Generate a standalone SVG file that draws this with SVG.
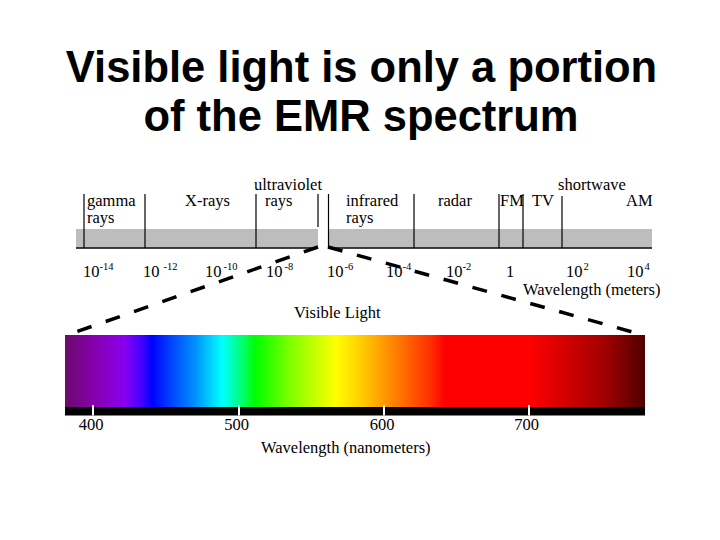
<svg xmlns="http://www.w3.org/2000/svg" width="720" height="540" viewBox="0 0 720 540">
  <defs>
    <style>
      .title { font-family: "Liberation Sans", Arial, sans-serif; font-weight: bold; font-size: 43.5px; fill: #000; text-anchor: middle; }
      .lbl { font-family: "Liberation Serif", "Times New Roman", serif; font-size: 16.5px; fill: #000; }
      .sup { font-size: 10.5px; }
      .mid { text-anchor: middle; }
      .band { fill: #bdbdbd; }
      .div { stroke: #000; stroke-width: 1.2; fill: none; }
      .base { stroke: #000; stroke-width: 1.6; fill: none; }
      .dash { stroke: #000; stroke-width: 3.5; stroke-dasharray: 15 15; fill: none; }
      .tick { stroke: #fff; stroke-width: 2; }
    </style>
    <linearGradient id="vis" gradientUnits="userSpaceOnUse" x1="65" y1="0" x2="645" y2="0">
      <stop offset="0" stop-color="#6a0a6a"/>
      <stop offset="0.052" stop-color="#8800b0"/>
      <stop offset="0.103" stop-color="#8800f0"/>
      <stop offset="0.134" stop-color="#4000ff"/>
      <stop offset="0.150" stop-color="#0000ff"/>
      <stop offset="0.181" stop-color="#0040ff"/>
      <stop offset="0.224" stop-color="#0090ff"/>
      <stop offset="0.271" stop-color="#00ffff"/>
      <stop offset="0.302" stop-color="#00ff80"/>
      <stop offset="0.328" stop-color="#00ff00"/>
      <stop offset="0.388" stop-color="#80ff00"/>
      <stop offset="0.466" stop-color="#ffff00"/>
      <stop offset="0.509" stop-color="#ffd000"/>
      <stop offset="0.569" stop-color="#ff8000"/>
      <stop offset="0.629" stop-color="#ff3000"/>
      <stop offset="0.655" stop-color="#ff0000"/>
      <stop offset="0.800" stop-color="#ff0000"/>
      <stop offset="0.866" stop-color="#d00000"/>
      <stop offset="0.931" stop-color="#a00000"/>
      <stop offset="1" stop-color="#500000"/>
    </linearGradient>
  </defs>

  <rect x="0" y="0" width="720" height="540" fill="#fff"/>

  <g id="title">
    <text class="title" x="361.5" y="82">Visible light is only a portion</text>
    <text class="title" x="361" y="131">of the EMR spectrum</text>
  </g>

  <g id="em-spectrum">
    <rect class="band" x="76" y="229" width="242" height="18.5"/>
    <rect class="band" x="328" y="229" width="324" height="18.5"/>
    <line class="base" x1="76" y1="248" x2="318" y2="248"/>
    <line class="base" x1="328" y1="248" x2="652" y2="248"/>
    <line class="div" x1="84" y1="194" x2="84" y2="248"/>
    <line class="div" x1="145" y1="194" x2="145" y2="248"/>
    <line class="div" x1="256" y1="194" x2="256" y2="248"/>
    <line class="div" x1="318" y1="194" x2="318" y2="227"/>
    <line class="div" x1="328.5" y1="194" x2="328.5" y2="248"/>
    <line class="div" x1="414" y1="194" x2="414" y2="248"/>
    <line class="div" x1="499" y1="194" x2="499" y2="248"/>
    <line class="div" x1="523" y1="194" x2="523" y2="248"/>
    <line class="div" x1="562" y1="196" x2="562" y2="248"/>
  </g>

  <g id="band-labels">
    <text class="lbl" x="87" y="206">gamma</text>
    <text class="lbl" x="87" y="223">rays</text>
    <text class="lbl" x="185" y="206">X-rays</text>
    <text class="lbl" x="254" y="190" textLength="68">ultraviolet</text>
    <text class="lbl" x="265" y="206">rays</text>
    <text class="lbl" x="346" y="206">infrared</text>
    <text class="lbl" x="346" y="223">rays</text>
    <text class="lbl" x="438" y="206">radar</text>
    <text class="lbl" x="500" y="206">FM</text>
    <text class="lbl" x="532" y="206">TV</text>
    <text class="lbl" x="558" y="190">shortwave</text>
    <text class="lbl" x="626" y="206">AM</text>
  </g>

  <g id="meter-scale">
    <text class="lbl" x="83" y="277">10<tspan class="sup" dy="-7">-14</tspan></text>
    <text class="lbl" x="143" y="277">10<tspan class="sup" dx="4" dy="-7">-12</tspan></text>
    <text class="lbl" x="205" y="277">10<tspan class="sup" dx="2" dy="-7">-10</tspan></text>
    <text class="lbl" x="266" y="277">10<tspan class="sup" dx="2" dy="-7">-8</tspan></text>
    <text class="lbl" x="327" y="277">10<tspan class="sup" dx="1" dy="-7">-6</tspan></text>
    <text class="lbl" x="386" y="277">10<tspan class="sup" dy="-7">-4</tspan></text>
    <text class="lbl" x="446" y="277">10<tspan class="sup" dy="-7">-2</tspan></text>
    <text class="lbl" x="506" y="277">1</text>
    <text class="lbl" x="566" y="277">10<tspan class="sup" dx="1" dy="-7">2</tspan></text>
    <text class="lbl" x="627" y="277">10<tspan class="sup" dx="1" dy="-7">4</tspan></text>
    <text class="lbl" x="523" y="295">Wavelength (meters)</text>
  </g>

  <g id="connectors">
    <path class="dash" d="M318,247 L73,333"/>
    <path class="dash" d="M328,247 L636,333"/>
  </g>

  <g id="visible-light">
    <text class="lbl" x="294" y="318">Visible Light</text>
    <rect x="65" y="335" width="580" height="72" fill="url(#vis)"/>
    <rect x="65" y="407" width="580" height="8.5" fill="#000"/>
    <line class="tick" x1="93" y1="405" x2="93" y2="415.5"/>
    <line class="tick" x1="239" y1="405" x2="239" y2="415.5"/>
    <line class="tick" x1="384" y1="405" x2="384" y2="415.5"/>
    <line class="tick" x1="529" y1="405" x2="529" y2="415.5"/>
    <text class="lbl mid" x="91" y="430">400</text>
    <text class="lbl mid" x="236.5" y="430">500</text>
    <text class="lbl mid" x="382" y="430">600</text>
    <text class="lbl mid" x="526.5" y="430">700</text>
    <text class="lbl" x="261" y="453">Wavelength (nanometers)</text>
  </g>
</svg>
